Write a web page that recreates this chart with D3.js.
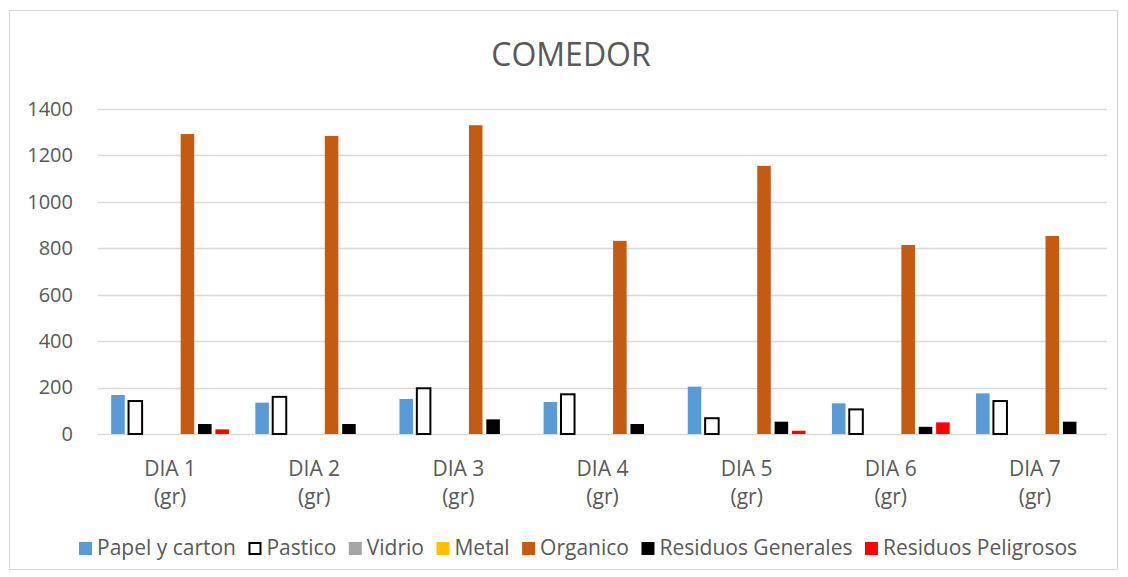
<!DOCTYPE html>
<html>
<head>
<meta charset="utf-8">
<script src="https://cdn.jsdelivr.net/npm/d3@7"></script>
<style>
  body { margin: 0; background: #fff; }
  svg text { font-family: "Open Sans", sans-serif; fill: #595959; }
</style>
</head>
<body>
<svg id="chart" width="1128" height="577"></svg>
<script>
// data
var days = ["DIA 1", "DIA 2", "DIA 3", "DIA 4", "DIA 5", "DIA 6", "DIA 7"];
var seriesNames = ["Papel y carton", "Pastico", "Vidrio", "Metal", "Organico", "Residuos Generales", "Residuos Peligrosos"];
var papel = [168, 135, 151, 138, 204, 132, 175];
var pastico = [142, 160, 197, 171, 68, 106, 142];
var vidrio = [0, 0, 0, 0, 0, 0, 0];
var metal = [0, 0, 0, 0, 0, 0, 0];
var organico = [1292, 1284, 1330, 832, 1155, 814, 853];
var generales = [43, 43, 63, 43, 53, 31, 53];
var peligrosos = [20, 0, 0, 0, 14, 50, 0];
var yTicks = [0, 200, 400, 600, 800, 1000, 1200, 1400];

var seriesValues = [papel, pastico, vidrio, metal, organico, generales, peligrosos];
var fills = ["#5B9BD5", "#ffffff", "#A5A5A5", "#FFC000", "#C55A11", "#000000", "#FF0000"];
var strokes = [null, "#000000", null, null, null, null, null];

var svg = d3.select("#chart");

// outer frame
svg.append("rect")
   .attr("x", 9.5).attr("y", 10.5)
   .attr("width", 1108).attr("height", 559)
   .attr("fill", "none")
   .attr("stroke", "#d9d9d9");

var plotLeft = 98, plotRight = 1107, plotTop = 109, plotBottom = 434;

var y = d3.scaleLinear().domain([0, 1400]).range([plotBottom, plotTop]);
var x0 = d3.scaleBand().domain(days).range([plotLeft, plotRight])
           .paddingInner(0.183).paddingOuter(0.0915);
var x1 = d3.scaleBand().domain(seriesNames).range([0, x0.bandwidth()]).paddingInner(0.22);

// gridlines
svg.append("g")
   .selectAll("line").data(yTicks).enter()
   .append("line")
   .attr("x1", plotLeft).attr("x2", plotRight)
   .attr("y1", function(d){ return Math.round(y(d)) + 0.5; })
   .attr("y2", function(d){ return Math.round(y(d)) + 0.5; })
   .attr("stroke", "#d9d9d9")
   .attr("stroke-width", 1.5);

// y axis labels
var yAxis = d3.axisLeft(y).tickValues(yTicks).tickFormat(d3.format("d")).tickSize(0).tickPadding(25);
var gy = svg.append("g").attr("transform", "translate(" + plotLeft + ",0)").call(yAxis);
gy.select(".domain").remove();
gy.selectAll("text").style("font-size", "20px").style("font-family", "Open Sans").attr("fill", "#595959");

// bars
seriesNames.forEach(function(name, si){
  svg.append("g")
     .selectAll("rect").data(seriesValues[si]).enter()
     .append("rect")
     .attr("x", function(d, i){ return x0(days[i]) + x1(name); })
     .attr("y", function(d){ return y(d); })
     .attr("width", x1.bandwidth())
     .attr("height", function(d){ return y(0) - y(d); })
     .attr("fill", fills[si])
     .attr("stroke", strokes[si] || "none")
     .attr("stroke-width", strokes[si] ? 2 : 0);
});

// category labels
var gx = svg.append("g");
days.forEach(function(d){
  var cx = x0(d) + x0.bandwidth() / 2;
  gx.append("text").attr("x", cx).attr("y", 476)
    .attr("text-anchor", "middle").style("font-size", "21px").text(d);
  gx.append("text").attr("x", cx).attr("y", 504)
    .attr("text-anchor", "middle").style("font-size", "21px").text("(gr)");
});

// title
svg.append("text")
   .attr("x", 571).attr("y", 66)
   .attr("text-anchor", "middle")
   .style("font-size", "32px")
   .text("COMEDOR");

// legend
var legend = svg.append("g");
var lx = 79;
seriesNames.forEach(function(name, si){
  legend.append("rect")
        .attr("x", lx + (strokes[si] ? 1 : 0)).attr("y", 542 + (strokes[si] ? 1 : 0))
        .attr("width", strokes[si] ? 11 : 13).attr("height", strokes[si] ? 11 : 13)
        .attr("fill", fills[si])
        .attr("stroke", strokes[si] || "none")
        .attr("stroke-width", strokes[si] ? 2 : 0);
  var t = legend.append("text")
        .attr("x", lx + 18).attr("y", 555)
        .style("font-size", "21px")
        .text(name);
  lx += 18 + t.node().getComputedTextLength() + 12.5;
});
</script>
</body>
</html>
